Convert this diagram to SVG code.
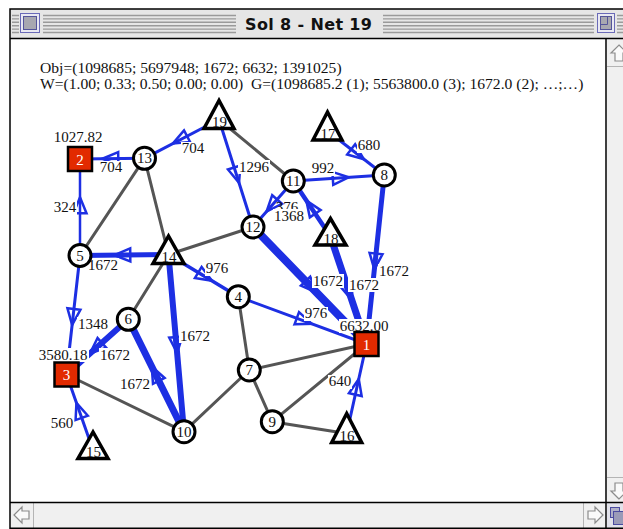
<svg xmlns="http://www.w3.org/2000/svg" width="623" height="529" viewBox="0 0 623 529">
<style>
  .frame{stroke:#000;stroke-width:1.5;fill:none}
  .stripe{stroke:#9a9a9a;stroke-width:1.4}
  .sbar{fill:#f0f0f0}
  .sicon{fill:#fafafa;stroke:#8c8c8c;stroke-width:1.2;stroke-linejoin:miter}
  .edge{stroke:#555;stroke-width:3;fill:none;stroke-linecap:round}
  .flow{stroke:#1d2fe3;fill:none;stroke-linecap:round}
  .ah{fill:none;stroke:#1d2fe3;stroke-width:2.5;stroke-linejoin:miter}
  .txt{font-family:"Liberation Serif","Times New Roman",serif;font-size:15.6px;fill:#111}
  .lbl{font-family:"Liberation Serif","Times New Roman",serif;font-size:15px;fill:#111;text-anchor:middle}
  .bg{fill:#fff}
  .nc{fill:#fff;stroke:#000;stroke-width:3}
  .nt{fill:#fff;stroke:#000;stroke-width:3.5;stroke-linejoin:miter}
  .ns{fill:#e22a00;stroke:#000;stroke-width:2.5}
  .nl{font-family:"Liberation Serif","Times New Roman",serif;font-size:15px;fill:#111;text-anchor:middle}
  .sl{font-family:"Liberation Serif","Times New Roman",serif;font-size:15px;fill:#fff;text-anchor:middle}
</style>

<rect width="623" height="529" fill="#fff"/>

<!-- window chrome -->
<g id="window">
  <rect x="10" y="9" width="613" height="29" fill="#e6e6e6"/>
  <g class="stripe">
    <path d="M12 15.5H19M12 18.9H19M12 22.3H19M12 25.7H19M12 29.1H19M12 32.5H19"/>
    <path d="M43 15.5H236M43 18.9H236M43 22.3H236M43 25.7H236M43 29.1H236M43 32.5H236"/>
    <path d="M383 15.5H594M383 18.9H594M383 22.3H594M383 25.7H594M383 29.1H594M383 32.5H594"/>
    <path d="M617 15.5H623M617 18.9H623M617 22.3H623M617 25.7H623M617 29.1H623M617 32.5H623"/>
  </g>
  <!-- close box -->
  <rect x="20.5" y="13.5" width="19" height="19" fill="#e9e9f2" stroke="#6a6ab8" stroke-width="1"/>
  <rect x="23.5" y="16.5" width="13" height="13" fill="#a8a8b0" stroke="#55559a" stroke-width="1"/>
  <!-- zoom box -->
  <rect x="597.5" y="13.5" width="17" height="19" fill="#e9e9f2" stroke="#6a6ab8" stroke-width="1"/>
  <rect x="600.5" y="16.5" width="11" height="13" fill="#a8a8b0" stroke="#55559a" stroke-width="1"/>
  <path d="M600.5 24.5H607.5V16.5" fill="none" stroke="#55559a" stroke-width="1"/>
  <text x="308.5" y="30" font-family="DejaVu Sans,Verdana,sans-serif" font-weight="bold" font-size="16" text-anchor="middle" textLength="127" lengthAdjust="spacing" fill="#111">Sol 8 - Net 19</text>

  <!-- scroll bars -->
  <rect class="sbar" x="607" y="39" width="16" height="463"/>
  <rect class="sbar" x="11" y="503" width="595" height="25"/>
  <path d="M607 66.5H623M607 477.5H623M33.5 503V528M583.5 503V528" stroke="#b4b4b4" stroke-width="1"/>
  <polygon class="sicon" points="619,45 627,53 623,53 623,61 615,61 615,53 611,53"/>
  <polygon class="sicon" points="619,499 611,491 615,491 615,483 623,483 623,491 627,491"/>
  <polygon class="sicon" points="14,515 22,507 22,511 29,511 29,519 22,519 22,523"/>
  <polygon class="sicon" points="603,515 595,507 595,511 588,511 588,519 595,519 595,523"/>
  <!-- grow box -->
  <rect x="607" y="503" width="16" height="25" fill="#e2e2ea"/>
  <rect x="610.5" y="507.5" width="9" height="10" fill="#b0b0c8" stroke="#4a4aa0" stroke-width="1"/>
  <rect x="613.5" y="511.5" width="10" height="13" fill="#9a9ab8" stroke="#4a4aa0" stroke-width="1"/>

  <path class="frame" d="M10 529V9H623M10 38.5H623M606 39V529M10 502.5H623M10 528.3H623"/>
</g>

<!-- header -->
<text class="txt" x="40" y="73">Obj=(1098685; 5697948; 1672; 6632; 1391025)</text>
<text class="txt" x="40" y="89" xml:space="preserve">W=(1.00; 0.33; 0.50; 0.00; 0.00)  G=(1098685.2 (1); 5563800.0 (3); 1672.0 (2); …;…)</text>

<!-- connectors -->
<g id="connectors">
  <g class="edge">
    <line x1="219" y1="119.5" x2="293.3" y2="181"/>
    <line x1="144.5" y1="158.3" x2="80" y2="255.5"/>
    <line x1="144.5" y1="158.3" x2="168.5" y2="254.5"/>
    <line x1="168.5" y1="254.5" x2="253" y2="227"/>
    <line x1="168.5" y1="254.5" x2="128.3" y2="319.3"/>
    <line x1="66.5" y1="374.5" x2="184" y2="431.7"/>
    <line x1="184" y1="431.7" x2="249.3" y2="370"/>
    <line x1="238.3" y1="296.7" x2="249.3" y2="370"/>
    <line x1="249.3" y1="370" x2="366.5" y2="344"/>
    <line x1="249.3" y1="370" x2="272.3" y2="421.7"/>
    <line x1="272.3" y1="421.7" x2="366.5" y2="344"/>
    <line x1="272.3" y1="421.7" x2="346.7" y2="433.5"/>
  </g>
  <g class="flow">
    <line x1="219" y1="119.5" x2="144.5" y2="158.3" stroke-width="3"/>
    <line x1="144.5" y1="158.3" x2="80" y2="159" stroke-width="3"/>
    <line x1="80" y1="255.5" x2="80" y2="159" stroke-width="2.5"/>
    <line x1="219" y1="119.5" x2="253" y2="227" stroke-width="3"/>
    <line x1="293.3" y1="181" x2="253" y2="227" stroke-width="3"/>
    <line x1="330.5" y1="236.5" x2="293.3" y2="181" stroke-width="4.5"/>
    <line x1="327.5" y1="131" x2="384.3" y2="175" stroke-width="3"/>
    <line x1="293.3" y1="181" x2="384.3" y2="175" stroke-width="3"/>
    <line x1="384.3" y1="175" x2="366.5" y2="344" stroke-width="5"/>
    <line x1="253" y1="227" x2="366.5" y2="344" stroke-width="8"/>
    <line x1="330.5" y1="236.5" x2="366.5" y2="344" stroke-width="7"/>
    <line x1="168.5" y1="254.5" x2="80" y2="255.5" stroke-width="5"/>
    <line x1="168.5" y1="254.5" x2="238.3" y2="296.7" stroke-width="3.5"/>
    <line x1="238.3" y1="296.7" x2="366.5" y2="344" stroke-width="3"/>
    <line x1="168.5" y1="254.5" x2="184" y2="431.7" stroke-width="6"/>
    <line x1="184" y1="431.7" x2="128.3" y2="319.3" stroke-width="7"/>
    <line x1="128.3" y1="319.3" x2="66.5" y2="374.5" stroke-width="6"/>
    <line x1="80" y1="255.5" x2="66.5" y2="374.5" stroke-width="3"/>
    <line x1="93" y1="450" x2="66.5" y2="374.5" stroke-width="3"/>
    <line x1="346.7" y1="433.5" x2="366.5" y2="344" stroke-width="3"/>
  </g>
  <g class="ah">
    <polygon points="184.07,130.36 172.88,143.52 190.07,141.9"/>
    <polygon points="118.18,152.08 102.25,158.76 118.32,165.08"/>
    <polygon points="86.5,213.25 80,197.25 73.5,213.25"/>
    <polygon points="227.99,169.49 239.02,182.78 240.39,165.57"/>
    <polygon points="272.21,195.21 266.56,211.52 281.99,203.77"/>
    <polygon points="320.64,210.12 306.33,200.44 309.84,217.36"/>
    <polygon points="347.18,154.47 363.8,159.12 355.14,144.19"/>
    <polygon points="333.24,184.88 348.78,177.34 332.38,171.9"/>
    <polygon points="369.57,252.85 374.35,269.45 382.49,254.21"/>
    <polygon points="300.91,285.72 316.71,292.68 310.24,276.66"/>
    <polygon points="340.44,286.62 351.68,299.73 352.76,282.5"/>
    <polygon points="130.18,248.43 114.25,255.11 130.32,261.43"/>
    <polygon points="194.91,278.06 211.96,280.77 201.63,266.94"/>
    <polygon points="294.52,324.37 311.78,323.81 299.02,312.17"/>
    <polygon points="169.25,337.69 177.12,353.06 182.2,336.55"/>
    <polygon points="164.63,377.99 151.71,366.54 152.99,383.77"/>
    <polygon points="97.54,338.05 89.94,353.56 106.2,347.75"/>
    <polygon points="67.47,308.31 72.12,324.94 80.39,309.77"/>
    <polygon points="87.87,415.76 76.44,402.82 75.61,420.06"/>
    <polygon points="361.65,396.01 358.76,378.99 348.95,393.21"/>
  </g>
  <!-- flow labels -->
  <g>
    <rect class="bg" x="181" y="142" width="24" height="14"/><text class="lbl" x="193" y="153">704</text>
    <rect class="bg" x="99" y="161" width="24" height="14"/><text class="lbl" x="111" y="172">704</text>
    <rect class="bg" x="53" y="201" width="24" height="14"/><text class="lbl" x="65" y="212">324</text>
    <rect class="bg" x="238" y="160" width="32" height="14"/><text class="lbl" x="254" y="172">1296</text>
    <text class="lbl" x="287" y="212">376</text>
    <rect class="bg" x="273" y="209" width="32" height="14"/><text class="lbl" x="289" y="221">1368</text>
    <rect class="bg" x="357" y="139" width="24" height="14"/><text class="lbl" x="369" y="150">680</text>
    <rect class="bg" x="311" y="162" width="24" height="14"/><text class="lbl" x="323" y="173">992</text>
    <rect class="bg" x="378" y="264" width="32" height="14"/><text class="lbl" x="394" y="276">1672</text>
    <rect class="bg" x="312" y="274" width="32" height="14"/><text class="lbl" x="328" y="286">1672</text>
    <rect class="bg" x="348" y="278" width="32" height="14"/><text class="lbl" x="364" y="290">1672</text>
    <rect class="bg" x="87" y="258" width="32" height="14"/><text class="lbl" x="103" y="270">1672</text>
    <rect class="bg" x="205" y="262" width="24" height="14"/><text class="lbl" x="217" y="273">976</text>
    <rect class="bg" x="304" y="307" width="24" height="14"/><text class="lbl" x="316" y="318">976</text>
    <rect class="bg" x="179" y="329" width="32" height="14"/><text class="lbl" x="195" y="341">1672</text>
    <rect class="bg" x="119" y="377" width="32" height="14"/><text class="lbl" x="135" y="389">1672</text>
    <rect class="bg" x="99" y="348" width="32" height="14"/><text class="lbl" x="115" y="360">1672</text>
    <rect class="bg" x="77" y="317" width="32" height="14"/><text class="lbl" x="93" y="329">1348</text>
    <rect class="bg" x="50" y="417" width="24" height="14"/><text class="lbl" x="62" y="428">560</text>
    <rect class="bg" x="328" y="375" width="24" height="14"/><text class="lbl" x="340" y="386">640</text>
  </g>
</g>

<!-- nodes -->
<g id="n1"><rect class="bg" x="339" y="319" width="51" height="14"/><text class="lbl" x="364" y="331">6632.00</text><rect class="ns" x="354.5" y="332" width="24" height="24"/><text class="sl" x="366.5" y="349.5">1</text></g>
<g id="n2"><rect class="bg" x="53" y="130" width="51" height="14"/><text class="lbl" x="78" y="142">1027.82</text><rect class="ns" x="68" y="147" width="24" height="24"/><text class="sl" x="80" y="164.5">2</text></g>
<g id="n3"><rect class="bg" x="38" y="348" width="51" height="14"/><text class="lbl" x="63" y="360">3580.18</text><rect class="ns" x="54.5" y="362.5" width="24" height="24"/><text class="sl" x="66.5" y="380">3</text></g>
<g id="n4"><circle class="nc" cx="238.3" cy="296.7" r="11"/><text class="nl" x="238.3" y="301.7">4</text></g>
<g id="n5"><circle class="nc" cx="80" cy="255.5" r="11"/><text class="nl" x="80" y="260.5">5</text></g>
<g id="n6"><circle class="nc" cx="128.3" cy="319.3" r="11"/><text class="nl" x="128.3" y="324.3">6</text></g>
<g id="n7"><circle class="nc" cx="249.3" cy="370" r="11"/><text class="nl" x="249.3" y="375">7</text></g>
<g id="n8"><circle class="nc" cx="384.3" cy="175" r="11"/><text class="nl" x="384.3" y="180">8</text></g>
<g id="n9"><circle class="nc" cx="272.3" cy="421.7" r="11"/><text class="nl" x="272.3" y="426.7">9</text></g>
<g id="n10"><circle class="nc" cx="184" cy="431.7" r="11"/><text class="nl" x="184" y="436.7">10</text></g>
<g id="n11"><circle class="nc" cx="293.3" cy="181" r="11"/><text class="nl" x="293.3" y="186">11</text></g>
<g id="n12"><circle class="nc" cx="253" cy="227" r="11"/><text class="nl" x="253" y="232">12</text></g>
<g id="n13"><circle class="nc" cx="144.5" cy="158.3" r="11"/><text class="nl" x="144.5" y="163.3">13</text></g>
<g id="n14"><polygon class="nt" points="168.5,236 153,263.5 184,263.5"/><text class="nl" x="169" y="262">14</text></g>
<g id="n15"><polygon class="nt" points="93,432 78,458.5 108,458.5"/><text class="nl" x="93.5" y="457">15</text></g>
<g id="n16"><polygon class="nt" points="346.7,413.5 331.7,442.5 361.7,442.5"/><text class="nl" x="347" y="441">16</text></g>
<g id="n17"><polygon class="nt" points="327.5,112 313,140 342,140"/><text class="nl" x="328" y="138.5">17</text></g>
<g id="n18"><polygon class="nt" points="330.5,218.5 315,245 346,245"/><text class="nl" x="331" y="243.5">18</text></g>
<g id="n19"><polygon class="nt" points="219,100.5 204,128.5 234,128.5"/><text class="nl" x="219.5" y="127">19</text></g>
</svg>
